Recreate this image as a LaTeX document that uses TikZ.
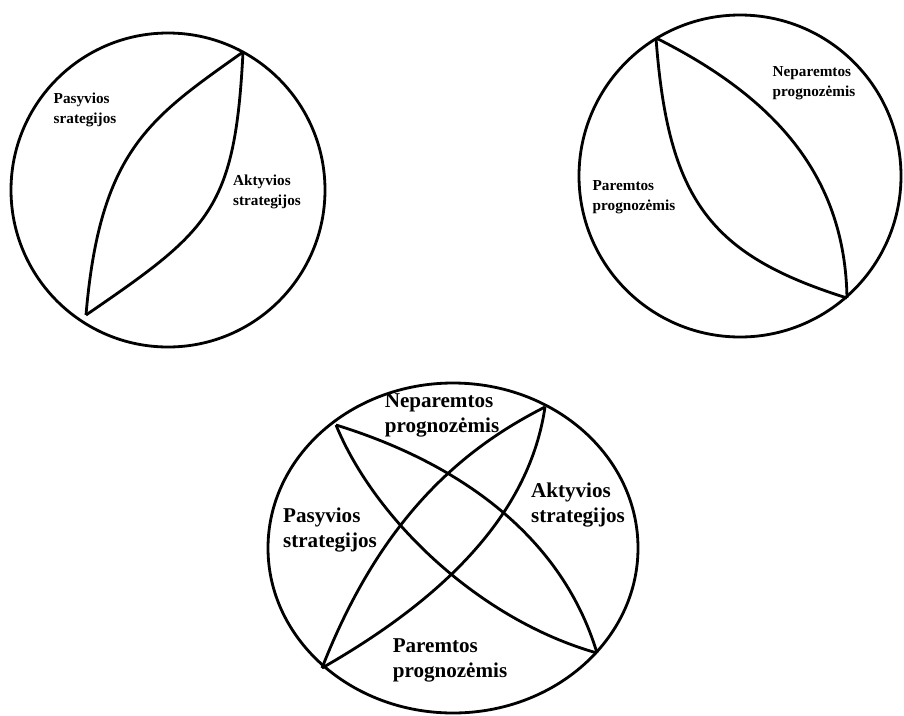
\documentclass[tikz,border=0pt]{standalone}
\usepackage{fontspec}
\setmainfont{Liberation Serif}
\begin{document}
\begin{tikzpicture}[x=0.3mm, y=-0.3mm, line width=2.4pt,
    smalltxt/.style={font=\bfseries\fontsize{13}{17}\selectfont, align=left, inner sep=0pt},
    bigtxt/.style={font=\bfseries\fontsize{18}{21.3}\selectfont, align=left, inner sep=0pt}]
        \useasboundingbox (0,0) rectangle (904,715);

        % first circle: passive and active strategies
        \coordinate (c1) at (168,190);
        \coordinate (t1) at (243,52);
        \coordinate (b1) at (86,315);
        \draw (c1) circle [radius=157];
        \draw (b1) .. controls (100,150) and (150,118) .. (t1);
        \draw (t1) .. controls (235,210) and (210,230) .. (b1);
        \node[smalltxt] (pas1) at (85,110) {Pasyvios\\ srategijos};
        \node[smalltxt] (akt1) at (267,192) {Aktyvios\\strategijos};

        % second circle: with and without forecasts
        \coordinate (c2) at (740,176);
        \coordinate (t2) at (656,38);
        \coordinate (b2) at (847,298);
        \draw (c2) circle [radius=161];
        \draw (t2) .. controls (668,200) and (710,255) .. (b2);
        \draw (t2) .. controls (780,100) and (845,180) .. (b2);
        \node[smalltxt] (nep2) at (814,83) {Neparemtos\\prognozėmis};
        \node[smalltxt] (par2) at (634,197) {Paremtos\\prognozėmis};

        % third circle: both combined
        \coordinate (c3) at (453,548);
        \coordinate (tl) at (336,425);
        \coordinate (tr) at (545,407);
        \coordinate (bl) at (322,668);
        \coordinate (br) at (597,653);
        \draw (c3) ellipse [x radius=185, y radius=165];
        \draw (tl) .. controls (450,460) and (560,530) .. (br);
        \draw (tl) .. controls (375,520) and (480,620) .. (br);
        \draw (tr) .. controls (460,450) and (380,520) .. (bl);
        \draw (tr) .. controls (530,510) and (450,595) .. (bl);
        \node[bigtxt] (nep3) at (442,415) {Neparemtos\\prognozėmis};
        \node[bigtxt] (akt3) at (578,505) {Aktyvios\\strategijos};
        \node[bigtxt] (pas3) at (330,530) {Pasyvios\\strategijos};
        \node[bigtxt] (par3) at (450,660) {Paremtos\\prognozėmis};
\end{tikzpicture}
\end{document}
